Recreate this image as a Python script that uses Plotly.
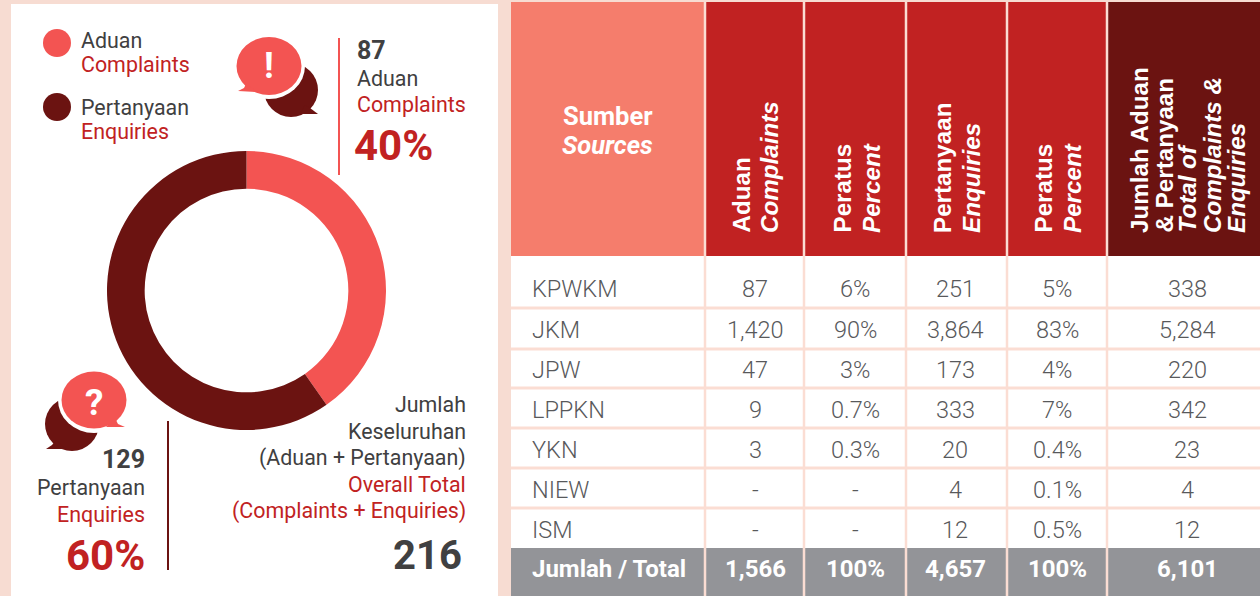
import plotly.graph_objects as go

# ---------- data ----------
donut_labels = ["Aduan / Complaints", "Pertanyaan / Enquiries"]
donut_values = [87, 129]
sources = ["KPWKM", "JKM", "JPW", "LPPKN", "YKN", "NIEW", "ISM"]
complaints = ["87", "1,420", "47", "9", "3", "-", "-"]
complaints_pct = ["6%", "90%", "3%", "0.7%", "0.3%", "-", "-"]
enquiries = ["251", "3,864", "173", "333", "20", "4", "12"]
enquiries_pct = ["5%", "83%", "4%", "7%", "0.4%", "0.1%", "0.5%"]
totals = ["338", "5,284", "220", "342", "23", "4", "12"]
footer = ["Jumlah / Total", "1,566", "100%", "4,657", "100%", "6,101"]

# ---------- style ----------
BG = "#F7DCD2"; CORAL = "#F35452"; DARK = "#6B1311"; RED = "#C12222"
SALMON = "#F57D6C"; GREY = "#939498"; TXT = "#404041"; LINE = "#FBDDD3"; TBL = "#58595B"
W, H = 1260, 596
RB = "Roboto"; ARI = "Liberation Sans"
LBL = 21.4

fig = go.Figure()
fig.add_trace(go.Scatter(x=[0, W], y=[0, H], mode="markers", marker=dict(opacity=0), hoverinfo="skip", showlegend=False))

shapes = []; notes = []

def rect(x0, y0, x1, y1, c, layer="below"):
    shapes.append(dict(type="rect", x0=x0, y0=y0, x1=x1, y1=y1, fillcolor=c, line_width=0, layer=layer))

def ell(cx, cy, rx, ry, c):
    shapes.append(dict(type="circle", x0=cx-rx, y0=cy-ry, x1=cx+rx, y1=cy+ry, fillcolor=c, line_width=0, layer="above"))

def poly(path, c):
    shapes.append(dict(type="path", path=path, fillcolor=c, line_width=0, layer="above"))

def vline(x, y0, y1, c, w):
    shapes.append(dict(type="line", x0=x, x1=x, y0=y0, y1=y1, line=dict(color=c, width=w), layer="above"))

def hline(y, x0, x1, c, w):
    shapes.append(dict(type="line", x0=x0, x1=x1, y0=y, y1=y, line=dict(color=c, width=w), layer="above"))

def txt(x, y, s, size, c, anchor="left", fam=RB, weight=400, style="normal", angle=0, yanchor="middle"):
    notes.append(dict(x=x, y=y, text=s, showarrow=False, xanchor=anchor, yanchor=yanchor, textangle=angle,
                      xshift=0, yshift=0, borderpad=0, borderwidth=0,
                      font=dict(family=fam, size=size, color=c, weight=weight, style=style)))

# backgrounds
rect(11, 4, 498, H, "#FFFFFF")
rect(511, 2, W, H, "#FFFFFF")

# legend
ell(57, 43, 14, 14, CORAL); ell(57, 107, 14, 14, DARK)
txt(81, 40, "Aduan", LBL, TXT); txt(81, 64, "Complaints", LBL, RED)
txt(81, 107, "Pertanyaan", LBL, TXT); txt(81, 131, "Enquiries", LBL, RED)

# exclamation bubbles
ell(291, 90, 27, 27, DARK)
poly("M 305 105 L 310 108 L 318 114 L 300 114 Z", DARK)
ell(269, 66, 36, 33, "#FFFFFF")
ell(269, 66, 32.5, 29, CORAL)
poly("M 246 84 L 244 88 L 238 91 L 258 92 Z", CORAL)
txt(269, 66, "!", 36, "#FFFFFF", "center", weight=700)

# question bubbles
ell(72, 424, 27, 27, DARK)
poly("M 56 440 L 52 445 L 46 449 L 66 449 Z", DARK)
ell(94, 400, 36, 33, "#FFFFFF")
ell(94, 400, 32.5, 28.5, CORAL)
poly("M 115 418 L 118 424 L 125 427 L 106 427 Z", CORAL)
txt(94, 402, "?", 37, "#FFFFFF", "center", weight=700)

# callouts
vline(339, 38, 175, CORAL, 2)
txt(357, 50, "87", 25, TXT, weight=700)
txt(357, 78, "Aduan", LBL, TXT); txt(357, 104, "Complaints", LBL, RED)
txt(354, 145, "40%", 42, RED, weight=700)

vline(168, 421, 570, DARK, 2)
txt(145, 459, "129", 25, TXT, "right", weight=700)
txt(145, 487, "Pertanyaan", LBL, TXT, "right"); txt(145, 514, "Enquiries", LBL, RED, "right")
txt(145, 555, "60%", 42, RED, "right", weight=700)

for yy, s, c in [(404, "Jumlah", TXT), (431, "Keseluruhan", TXT), (458, "(Aduan + Pertanyaan)", TXT),
                 (484, "Overall Total", RED), (511, "(Complaints + Enquiries)", RED)]:
    txt(465.5, yy, s, LBL, c, "right")
txt(462, 555, "216", 40, TXT, "right", weight=700)

# table
col_edges = [511, 705, 804, 906, 1007, 1107, W]
col_centers = [755, 855, 955, 1057, 1187]
row_y = [289, 329.5, 370, 410, 450, 490, 530]
foot_y = 569
row_lines = [308, 349, 388, 428, 468, 508]

rect(511, 2, 705, 256, SALMON)
rect(705, 2, 1107, 256, RED)
rect(1107, 2, W, 256, DARK)
rect(511, 548, W, H, GREY)
for y in row_lines:
    hline(y, 511, W, LINE, 3)
for x in col_edges[1:-1]:
    vline(x, 2, H, LINE, 2.5)

txt(607.5, 116, "Sumber", 25.5, "#FFFFFF", "center", RB, 700)
txt(607.5, 145, "Sources", 25.5, "#FFFFFF", "center", RB, 700, "italic")

hdr = [(741, "Aduan", "normal"), (769, "Complaints", "italic"),
       (842, "Peratus", "normal"), (871, "Percent", "italic"),
       (942, "Pertanyaan", "normal"), (971, "Enquiries", "italic"),
       (1043, "Peratus", "normal"), (1072, "Percent", "italic"),
       (1139, "Jumlah Aduan", "normal"), (1164, "& Pertanyaan", "normal"),
       (1187, "Total of", "italic"), (1212, "Complaints &", "italic"), (1236, "Enquiries", "italic")]
for x, s, st in hdr:
    txt(x, 233, s, 24.2, "#FFFFFF", "center", ARI, 700, st, angle=-90, yanchor="bottom")

columns = [complaints, complaints_pct, enquiries, enquiries_pct, totals]
for i, (name, y) in enumerate(zip(sources, row_y)):
    txt(532, y, name, 23.5, TBL, "left", RB, 300)
    for cx, col in zip(col_centers, columns):
        txt(cx, y, col[i], 23.5, TBL, "center", RB, 300)
txt(532, foot_y, footer[0], 24, "#FFFFFF", "left", RB, 700)
for cx, s in zip(col_centers, footer[1:]):
    txt(cx, foot_y, s, 24, "#FFFFFF", "center", RB, 700)

# donut
cx, cy, R = 246.5, 290.5, 139.5
fig.add_trace(go.Pie(labels=donut_labels, values=donut_values, hole=0.73, sort=False, direction="clockwise",
                     rotation=0, textinfo="none", marker=dict(colors=[CORAL, DARK], line=dict(width=0)),
                     domain=dict(x=[(cx-R)/W, (cx+R)/W], y=[1-(cy+R)/H, 1-(cy-R)/H]), showlegend=False))

fig.update_layout(width=W, height=H, margin=dict(l=0, r=0, t=0, b=0), paper_bgcolor=BG, plot_bgcolor=BG,
                  showlegend=False, shapes=shapes, annotations=notes,
                  xaxis=dict(range=[0, W], visible=False, fixedrange=True),
                  yaxis=dict(range=[H, 0], visible=False, fixedrange=True))

fig.write_html("out.html", post_script="document.body.style.margin='0';", config=dict(displayModeBar=False))
